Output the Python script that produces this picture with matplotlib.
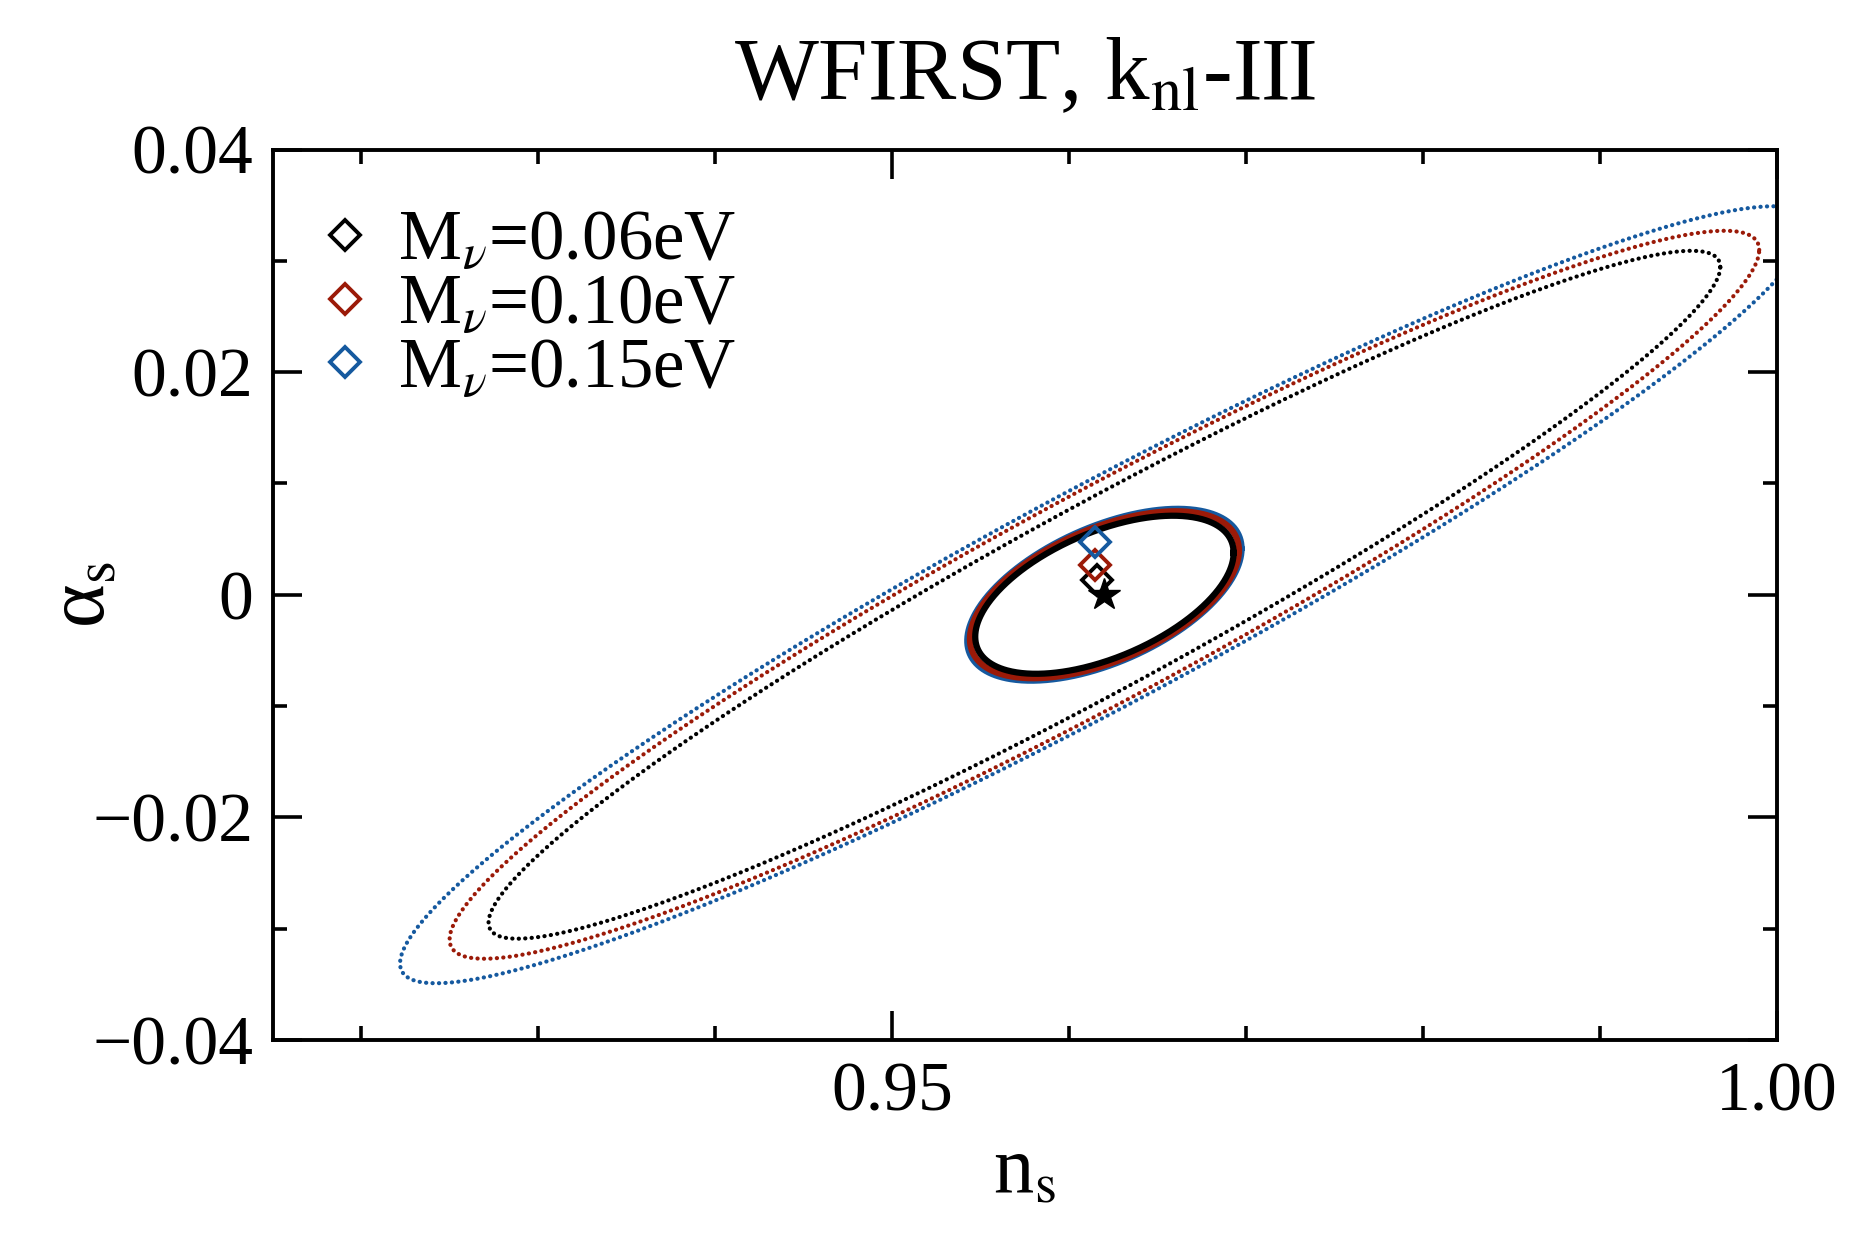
import numpy as np
import matplotlib as mpl
import matplotlib.pyplot as plt
from matplotlib.ticker import MultipleLocator, FixedLocator, FixedFormatter

# setting the figure
plt.rcParams['font.family'] = ['Liberation Serif', 'DejaVu Serif']
plt.rcParams['mathtext.fontset'] = 'stix'
mpl.rcParams['axes.linewidth'] = 2.8

# fiducial point and shifted best fits
ns_fid = 0.962
alpha_fid = 0.0
labels = [r'M$_\nu$=0.06eV', r'M$_\nu$=0.10eV', r'M$_\nu$=0.15eV']
colors = ['black', '#9b1a08', '#15599f']
ns_best = [0.9616, 0.96147, 0.96147]
alpha_best = [0.0013, 0.0027, 0.0047]

# 1-sigma half extents and correlation, wide (dotted) contours
wide_dns = [0.0348, 0.0370, 0.0398]
wide_dalpha = [0.0309, 0.0327, 0.0349]
wide_rho = [0.953, 0.947, 0.949]

# tight (solid) contours
tight_dns = [0.0073, 0.0076, 0.0078]
tight_dalpha = [0.0071, 0.0075, 0.0078]
tight_rho = [0.53, 0.53, 0.53]

x_major = [0.95, 1.00]
x_major_labels = ['0.95', '1.00']
y_major = [-0.04, -0.02, 0.0, 0.02, 0.04]
y_major_labels = ['\u22120.04', '\u22120.02', '0', '0.02', '0.04']


def contour(dx, dy, rho, n=600):
    t = np.linspace(0, 2 * np.pi, n)
    x = ns_fid + dx * np.cos(t)
    y = alpha_fid + dy * (rho * np.cos(t) + np.sqrt(1 - rho ** 2) * np.sin(t))
    return x, y


fig = plt.figure(figsize=(18.75, 12.5), dpi=100)
ax = fig.add_axes([0.1454, 0.168, 0.8023, 0.7124])

for i in range(3):
    x, y = contour(wide_dns[i], wide_dalpha[i], wide_rho[i])
    ax.plot(x, y, color=colors[i], lw=3.0, linestyle=(0, (0.05, 1.5)),
            dash_capstyle='round')

lw_tight = [4.5, 4.5, 3.2]
for i in [2, 1, 0]:
    x, y = contour(tight_dns[i], tight_dalpha[i], tight_rho[i])
    ax.plot(x, y, color=colors[i], lw=lw_tight[i], zorder=3 + (2 - i))

for i in range(3):
    ax.plot(ns_best[i], alpha_best[i], 'D', ms=15.5, mfc='none', mec=colors[i],
            mew=2.8, label=labels[i], zorder=6)

ax.plot(ns_fid, alpha_fid, '*', color='black', ms=24, zorder=8)

ax.legend(loc='upper left', bbox_to_anchor=(0.034, 0.932), frameon=False,
          fontsize=51, handlelength=0.6, handletextpad=0.45, labelspacing=-0.02,
          borderpad=0, borderaxespad=0, numpoints=1)

ax.set_xlim(0.915, 1.0)
ax.set_ylim(-0.04, 0.04)

ax.xaxis.set_major_locator(FixedLocator(x_major))
ax.xaxis.set_major_formatter(FixedFormatter(x_major_labels))
ax.xaxis.set_minor_locator(MultipleLocator(0.01))
ax.yaxis.set_major_locator(FixedLocator(y_major))
ax.yaxis.set_major_formatter(FixedFormatter(y_major_labels))
ax.yaxis.set_minor_locator(MultipleLocator(0.01))

ax.set_title(r'WFIRST, k$_{\mathrm{nl}}$-III', fontsize=64, pad=36)
ax.set_xlabel(r'n$_{\mathrm{s}}$', fontsize=58, labelpad=8)
ax.set_ylabel('\u03b1$_{\\mathrm{s}}$', fontsize=60)
ax.yaxis.set_label_coords(-0.10, 0.5)

#deco
ax.tick_params(direction='in', which='major', length=21, width=2.6,
               labelsize=50, top=True, right=True)
ax.tick_params(direction='in', which='minor', length=10, width=2.6,
               top=True, right=True)
ax.tick_params(axis='x', which='major', pad=16)
ax.tick_params(axis='y', which='major', pad=14)

fig.savefig('out.png', dpi=100)
